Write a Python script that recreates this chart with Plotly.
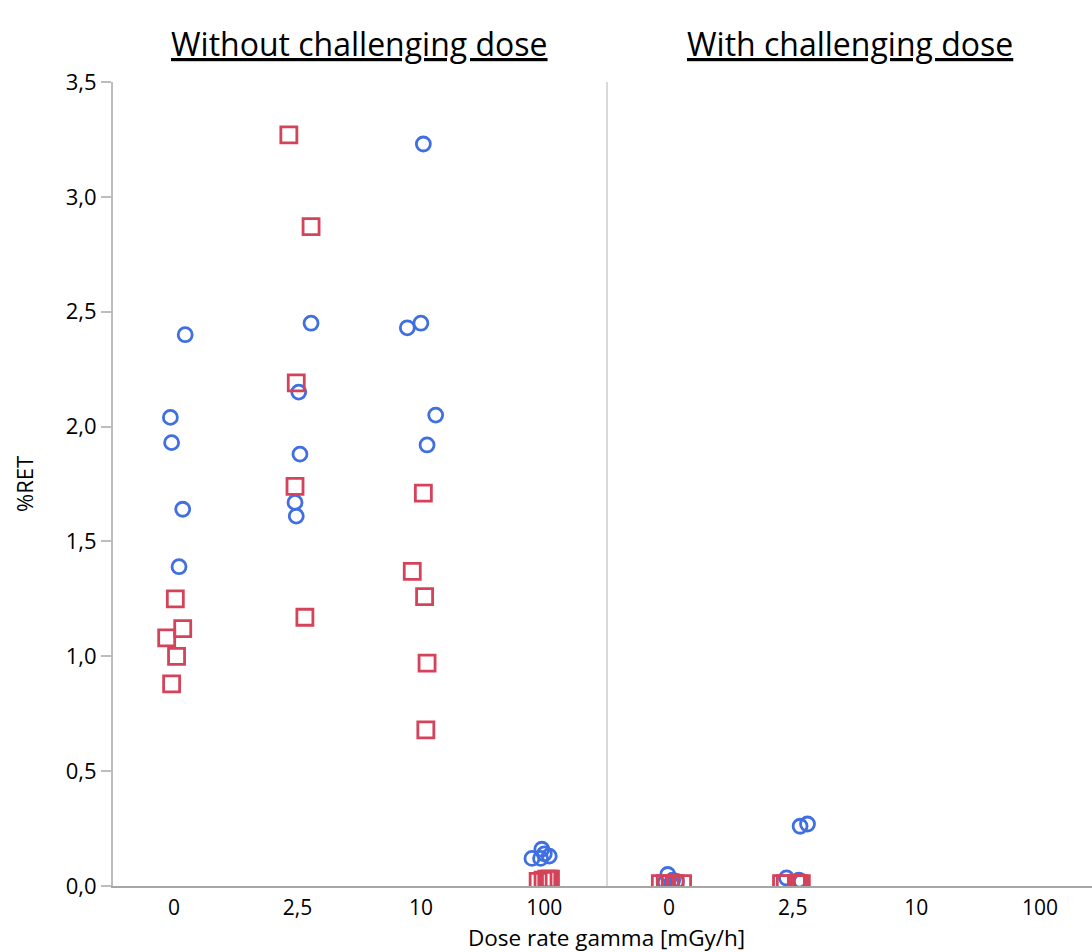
import plotly.graph_objects as go
from plotly.subplots import make_subplots

cats = ["0", "2,5", "10", "100"]
panel_titles = ["Without challenging dose", "With challenging dose"]

# Left panel (without challenging dose) - circles (blue)
lc_cat = [0, 0, 0, 0, 0, 1, 1, 1, 1, 1, 2, 2, 2, 2, 2, 3, 3, 3, 3, 3]
lc_y = [2.40, 2.04, 1.93, 1.64, 1.39,
        2.45, 2.15, 1.88, 1.67, 1.61,
        3.23, 2.43, 2.45, 2.05, 1.92,
        0.12, 0.16, 0.14, 0.13, 0.12]
lc_jit = [0.09, -0.03, -0.02, 0.07, 0.04,
          0.11, 0.01, 0.02, -0.02, -0.01,
          0.02, -0.11, 0.00, 0.12, 0.05,
          -0.10, -0.02, 0.00, 0.04, -0.03]

# Left panel - squares (red)
ls_cat = [0, 0, 0, 0, 0, 1, 1, 1, 1, 1, 2, 2, 2, 2, 2, 3, 3, 3, 3, 3]
ls_y = [1.25, 1.12, 1.08, 1.00, 0.88,
        3.27, 2.87, 2.19, 1.74, 1.17,
        1.71, 1.37, 1.26, 0.97, 0.68,
        0.02, 0.025, 0.03, 0.03, 0.03]
ls_jit = [0.01, 0.07, -0.06, 0.02, -0.02,
          -0.07, 0.11, -0.01, -0.02, 0.06,
          0.02, -0.07, 0.03, 0.05, 0.04,
          -0.05, -0.01, 0.02, 0.04, 0.05]

# Right panel (with challenging dose) - circles (blue)
rc_cat = [0, 0, 0, 0, 0, 1, 1, 1, 1, 1]
rc_y = [0.05, 0.025, 0.02, 0.015, 0.01,
        0.26, 0.27, 0.035, 0.025, 0.02]
rc_jit = [-0.01, 0.03, 0.06, -0.03, 0.02,
          0.06, 0.12, -0.05, 0.05, 0.07]

# Right panel - squares (red)
rs_cat = [0, 0, 0, 0, 0, 1, 1, 1, 1, 1]
rs_y = [0.01, 0.01, 0.01, 0.01, 0.01,
        0.01, 0.01, 0.01, 0.01, 0.01]
rs_jit = [-0.07, 0.01, 0.11, -0.03, 0.05,
          -0.09, 0.07, 0.05, -0.06, 0.03]

BLUE = "#3f6fe0"
RED = "#d4435a"

fig = make_subplots(rows=1, cols=2, shared_yaxes=False, horizontal_spacing=0.002)


def pos(c, j):
    return [a + b for a, b in zip(c, j)]


def add(col, cat, y, jit, sym, color, size):
    fig.add_trace(go.Scatter(
        x=pos(cat, jit), y=y, mode="markers",
        marker=dict(symbol=sym, size=size, color=color,
                    line=dict(width=2.8, color=color)),
        showlegend=False, hoverinfo="skip"), row=1, col=col)


add(1, lc_cat, lc_y, lc_jit, "circle-open", BLUE, 14)
add(1, ls_cat, ls_y, ls_jit, "square-open", RED, 16)
add(2, rc_cat, rc_y, rc_jit, "circle-open", BLUE, 14)
add(2, rs_cat, rs_y, rs_jit, "square-open", RED, 16)

FONT = "Open Sans"
W, H = 1092, 952
L, R, T, B = 113, 0, 82, 66
pw = W - L - R
d1 = (606 - L) / pw
d2 = (608 - L) / pw

xcommon = dict(tickmode="array", tickvals=[0, 1, 2, 3], ticktext=cats,
               showline=True, linecolor="#a6a6a6", linewidth=2,
               showgrid=False, zeroline=False, ticks="",
               ticklabelstandoff=2, tickfont=dict(size=21))

fig.update_layout(
    width=W, height=H,
    margin=dict(l=L, r=R, t=T, b=B),
    plot_bgcolor="white", paper_bgcolor="white",
    separators=",.",
    font=dict(family=FONT, size=22, color="#000"),
    xaxis=dict(domain=[0, d1], range=[-0.495, 3.50], **xcommon),
    xaxis2=dict(domain=[d2, 1], range=[-0.493, 3.42], **xcommon),
    yaxis=dict(range=[0, 3.5], tickmode="array",
               tickvals=[0, 0.5, 1.0, 1.5, 2.0, 2.5, 3.0, 3.5],
               tickformat=".1f", tickfont=dict(size=22),
               showline=True, linecolor="#bdbdbd", linewidth=2,
               ticks="outside", ticklen=10, tickcolor="#bdbdbd", tickwidth=2,
               showgrid=False, zeroline=False,
               title=dict(text="%RET", font=dict(size=22), standoff=26)),
    yaxis2=dict(range=[0, 3.5], showticklabels=False,
                showline=True, linecolor="#d9d9d9", linewidth=1.5,
                ticks="", showgrid=False, zeroline=False),
)

fig.add_annotation(text="<u>" + panel_titles[0] + "</u>", xref="paper", yref="paper",
                   x=d1 / 2, y=1, yshift=39, xanchor="center", yanchor="middle",
                   showarrow=False, font=dict(size=32, family=FONT))
fig.add_annotation(text="<u>" + panel_titles[1] + "</u>", xref="paper", yref="paper",
                   x=(d2 + 1) / 2, y=1, yshift=39, xanchor="center", yanchor="middle",
                   showarrow=False, font=dict(size=32, family=FONT))
fig.add_annotation(text="Dose rate gamma [mGy/h]", xref="paper", yref="paper",
                   x=(606 - L) / pw, y=0, yshift=-51, xanchor="center", yanchor="middle",
                   borderpad=0, showarrow=False, font=dict(size=22.5, family=FONT))

fig.write_html("out.html")
